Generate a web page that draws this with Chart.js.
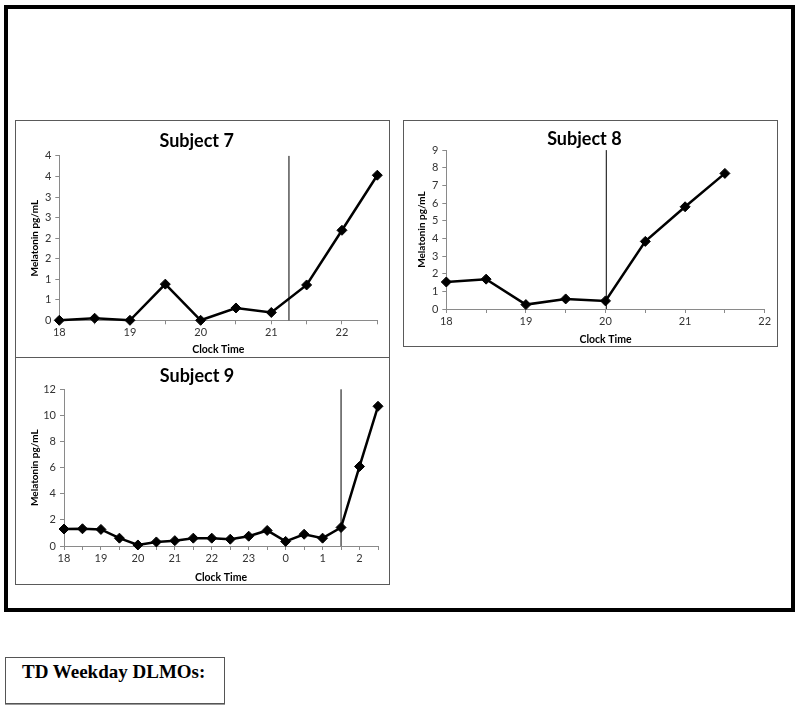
<!DOCTYPE html>
<html>
<head>
<meta charset="utf-8">
<script src="https://cdn.jsdelivr.net/npm/chart.js@4/dist/chart.umd.min.js"></script>
<style>
  html, body { margin: 0; padding: 0; background: #fff; }
  #page { position: relative; width: 800px; height: 708px; overflow: hidden; background: #fff; }
  #frame { position: absolute; left: 4px; top: 5px; width: 783px; height: 599px; border: 4px solid #000; }
  .panel { position: absolute; border: 1px solid #5a5a5a; background: #fff; }
  .panel canvas { display: block; }
  #note { position: absolute; left: 5px; top: 657px; width: 218px; height: 45px; border: 1px solid #555;
          box-shadow: 0 1px 0 #999; font-family: "Liberation Serif", "Times New Roman", serif; font-weight: bold;
          font-size: 19px; color: #000; }
  #note span { position: absolute; left: 16px; top: 3px; }
</style>
</head>
<body>
<div id="page">
  <div id="frame"></div>
  <div class="panel" style="left:15px; top:120px; width:373px; height:236px;"><canvas id="c7" width="373" height="236"></canvas></div>
  <div class="panel" style="left:403px; top:120px; width:373px; height:225px;"><canvas id="c8" width="373" height="225"></canvas></div>
  <div class="panel" style="left:15px; top:357px; width:373px; height:226px;"><canvas id="c9" width="373" height="226"></canvas></div>
  <div id="note"><span>TD Weekday DLMOs:</span></div>
</div>
<script>
// ---- Data ----
const times7 = [18, 18.5, 19, 19.5, 20, 20.5, 21, 21.5, 22, 22.5];
const melatonin7 = [0, 0.05, 0, 0.88, 0, 0.3, 0.19, 0.86, 2.19, 3.53];
const dlmo7 = 21.25;

const times8 = [18, 18.5, 19, 19.5, 20, 20.5, 21, 21.5];
const melatonin8 = [1.53, 1.69, 0.25, 0.57, 0.46, 3.83, 5.79, 7.68];
const dlmo8 = 20.01;

const times9 = [18, 18.5, 19, 19.5, 20, 20.5, 21, 21.5, 22, 22.5, 23, 23.5, 24, 24.5, 25, 25.5, 26, 26.5];
const melatonin9 = [1.3, 1.32, 1.27, 0.6, 0.08, 0.31, 0.41, 0.6, 0.6, 0.52, 0.75, 1.19, 0.35, 0.9, 0.6, 1.42, 6.09, 10.7];
const dlmo9 = 25.5;

const titles = ['Subject 7', 'Subject 8', 'Subject 9'];
const yTitle = 'Melatonin pg/mL';
const xTitle = 'Clock Time';

// ---- Chart builder ----
const AXIS = '#8a8a8a';
const TICK = '#333333';
const FONT = 'Lato, "Open Sans", sans-serif';

function makeChart(id, cfg) {
  const pts = cfg.times.map((t, i) => ({ x: t, y: cfg.values[i] }));
  const dl = [{ x: cfg.dlmo, y: 0 }, { x: cfg.dlmo, y: cfg.yMax }];
  new Chart(document.getElementById(id), {
    type: 'line',
    data: {
      datasets: [
        { data: pts, borderColor: '#000', backgroundColor: '#000', borderWidth: 2.5,
          pointStyle: 'rectRot', pointRadius: 5, pointBorderWidth: 1, pointBackgroundColor: '#000',
          tension: 0, clip: false, order: 1 },
        { data: dl, borderColor: '#000', borderWidth: 1, pointRadius: 0, clip: false, order: 2 }
      ]
    },
    options: {
      responsive: false,
      animation: false,
      events: [],
      layout: { padding: { left: 0, right: cfg.padRight, top: 0, bottom: 0 } },
      plugins: {
        legend: { display: false },
        tooltip: { enabled: false },
        title: { display: true, text: cfg.title, color: '#000',
                 font: { family: FONT, weight: 'bold', size: 18, lineHeight: 1.2 },
                 padding: { top: cfg.titleTop, bottom: cfg.titleBottom } }
      },
      scales: {
        x: {
          type: 'linear', min: cfg.xMin, max: cfg.xMax,
          afterFit: s => { s.height = cfg.xHeight; },
          ticks: { stepSize: 0.5, autoSkip: false, maxRotation: 0, color: TICK, padding: 2,
                   font: { family: FONT, size: 11 },
                   callback: v => (Number.isInteger(v) ? String(v % 24) : '') },
          grid: { drawOnChartArea: false, drawTicks: true, tickLength: 4, color: AXIS },
          border: { display: true, color: AXIS, width: 1 },
          title: { display: true, text: xTitle, color: '#000',
                   font: { family: FONT, weight: 'bold', size: 10.5, lineHeight: 1.2 },
                   padding: { top: 0, bottom: cfg.xTitleBottom } }
        },
        y: {
          min: 0, max: cfg.yMax,
          afterFit: s => { s.width = cfg.yWidth; },
          ticks: { stepSize: cfg.yStep, autoSkip: false, color: TICK, padding: 4,
                   font: { family: FONT, size: 11 },
                   callback: v => String(Math.round(v)) },
          grid: { drawOnChartArea: false, drawTicks: true, tickLength: 4, color: AXIS },
          border: { display: true, color: AXIS, width: 1 },
          title: { display: true, text: yTitle, color: '#000',
                   font: { family: FONT, weight: 'bold', size: 10, lineHeight: 1.2 },
                   padding: { top: cfg.yTitleTop, bottom: 0 } }
        }
      }
    }
  });
}

makeChart('c7', { title: titles[0], times: times7, values: melatonin7, dlmo: dlmo7,
  xMin: 18, xMax: 22.5, yMax: 4, yStep: 0.5,
  padRight: 11.7, titleTop: 9, titleBottom: 4.3, xHeight: 36.7, yWidth: 43.3,
  xTitleBottom: 1.2, yTitleTop: 12.4 });

makeChart('c8', { title: titles[1], times: times8, values: melatonin8, dlmo: dlmo8,
  xMin: 18, xMax: 22, yMax: 9, yStep: 1,
  padRight: 12.3, titleTop: 7.5, titleBottom: 0, xHeight: 37, yWidth: 42.3,
  xTitleBottom: 0.5, yTitleTop: 12 });

makeChart('c9', { title: titles[2], times: times9, values: melatonin9, dlmo: dlmo9,
  xMin: 18, xMax: 26.5, yMax: 12, yStep: 2,
  padRight: 11, titleTop: 7, titleBottom: 2.7, xHeight: 38, yWidth: 48,
  xTitleBottom: 0.5, yTitleTop: 13 });
</script>
</body>
</html>
